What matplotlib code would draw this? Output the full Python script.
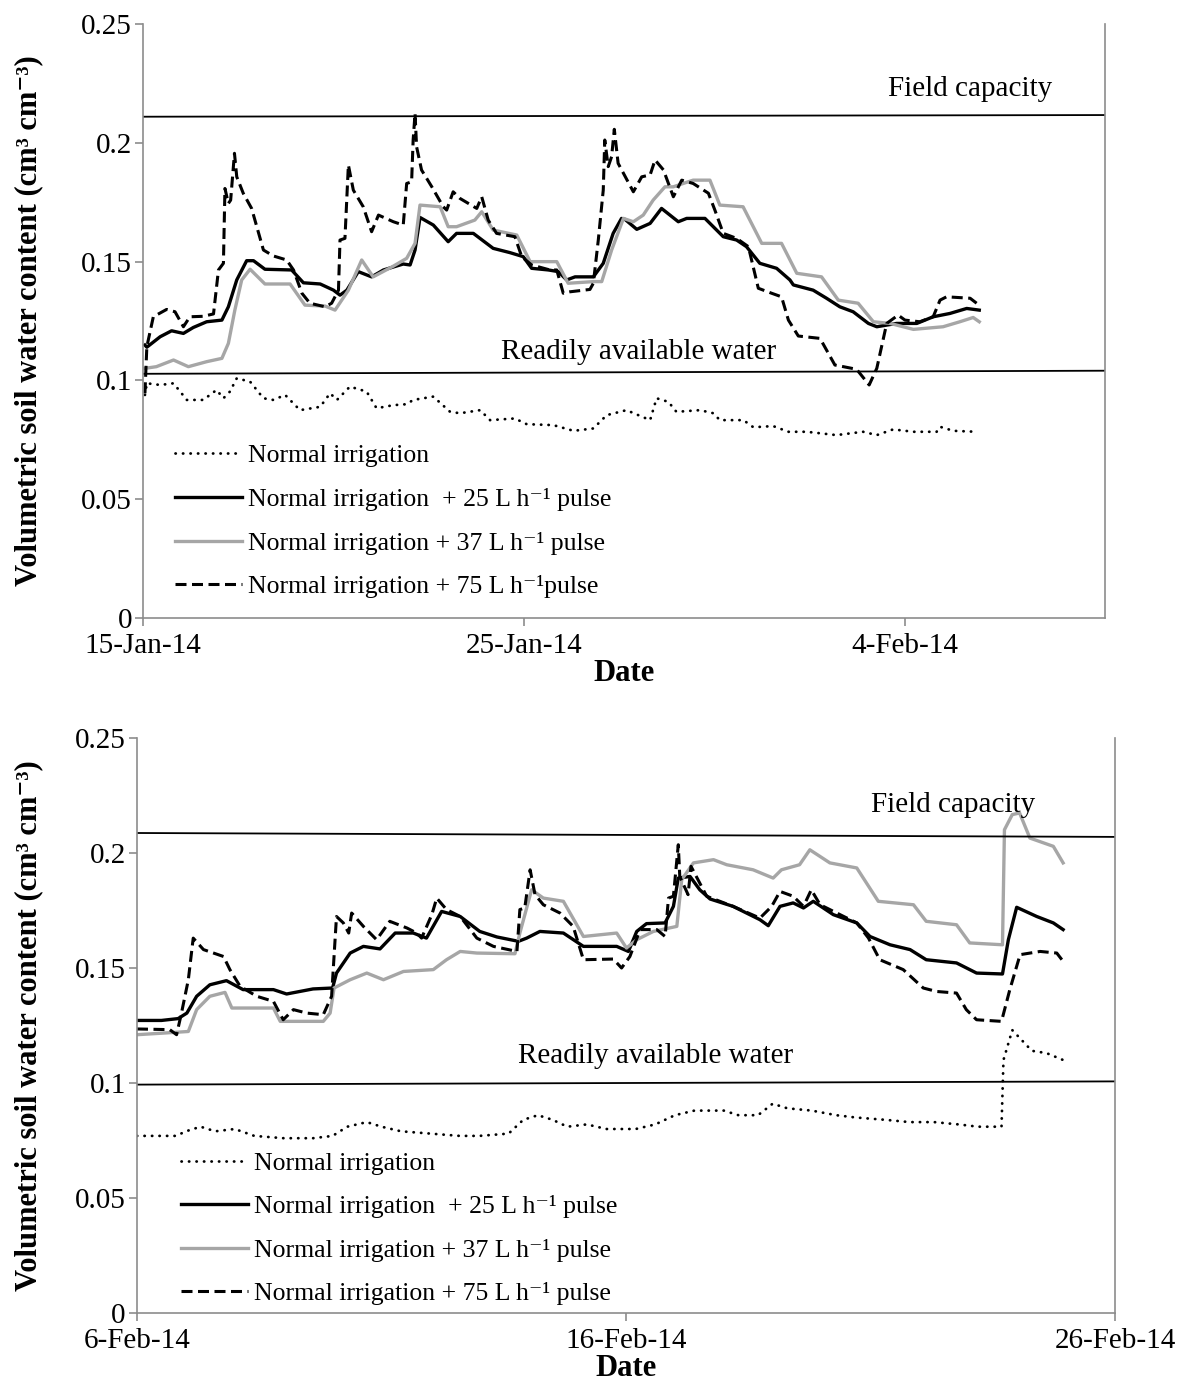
import numpy as np
import matplotlib
matplotlib.use("Agg")
import matplotlib.pyplot as plt
import matplotlib.dates as mdates
from matplotlib.ticker import FixedLocator, FuncFormatter

plt.rcParams['font.family'] = ['Liberation Serif', 'DejaVu Serif']

## soil moisture under the four irrigation treatments, two periods
## x values are days since the start date of each panel

# ---- period 1 : 15-Jan-14 onwards ----
p1_start = '2014-01-15'
p1_span = 25.25

p1_normal_d = [0.05, 0.1, 0.45, 0.8, 1.15, 1.58, 1.93, 2.11, 2.28, 2.46, 2.81, 3.16, 3.42, 3.73, 4.12,
               4.65, 4.91, 5.09, 5.43, 5.87, 6.13, 6.57, 6.92, 7.09, 7.62, 8.06, 8.32, 8.85, 9.11, 9.76,
               10.07, 10.77, 11.3, 11.82, 12.17, 12.69, 13.31, 13.48, 13.79, 14.0, 14.62, 14.97, 15.14,
               15.76, 16.02, 16.54, 16.94, 17.42, 18.2, 18.9, 19.26, 19.69, 20.22, 20.83, 20.92, 21.27, 21.88]
p1_normal = [0.0939, 0.0988, 0.0981, 0.0988, 0.0918, 0.0918, 0.096, 0.0925, 0.0953, 0.1009, 0.0995, 0.0925,
             0.0918, 0.0939, 0.0875, 0.0889, 0.0946, 0.0918, 0.0974, 0.0953, 0.0883, 0.0896, 0.09, 0.0918,
             0.0932, 0.0868, 0.0862, 0.0875, 0.0833, 0.084, 0.0816, 0.0812, 0.0788, 0.0798, 0.0854, 0.0875,
             0.0833, 0.0925, 0.091, 0.0868, 0.0875, 0.0862, 0.0833, 0.0833, 0.0803, 0.0808, 0.0784, 0.0784,
             0.077, 0.0784, 0.077, 0.0794, 0.0784, 0.0784, 0.0805, 0.0788, 0.0784]

p1_p25_d = [0.05, 0.1, 0.45, 0.75, 1.06, 1.32, 1.67, 2.07, 2.24, 2.46, 2.72, 2.9, 3.2, 3.9, 4.21, 4.65, 5.0,
            5.17, 5.35, 5.65, 6.0, 6.31, 6.83, 7.01, 7.14, 7.27, 7.62, 8.01, 8.23, 8.67, 9.19, 9.63, 9.98,
            10.2, 10.64, 10.9, 11.12, 11.34, 11.82, 12.08, 12.34, 12.56, 12.65, 12.96, 13.31, 13.61, 14.05,
            14.27, 14.75, 15.23, 15.58, 15.84, 16.19, 16.63, 16.98, 17.07, 17.59, 17.94, 18.29, 18.64,
            19.04, 19.26, 19.78, 20.31, 20.74, 21.18, 21.62, 21.95]
p1_p25 = [0.1149, 0.114, 0.1184, 0.1209, 0.1198, 0.1223, 0.1247, 0.1254, 0.131, 0.1423, 0.1504, 0.1504,
          0.1468, 0.1465, 0.1411, 0.1406, 0.138, 0.1359, 0.138, 0.1458, 0.1436, 0.1465, 0.149, 0.1486,
          0.1549, 0.1686, 0.1654, 0.1584, 0.1619, 0.1619, 0.1556, 0.1538, 0.1521, 0.1472, 0.1465, 0.1458,
          0.1423, 0.1436, 0.1436, 0.1493, 0.1619, 0.1682, 0.1678, 0.1636, 0.1661, 0.1724, 0.1668, 0.1682,
          0.1682, 0.1605, 0.1591, 0.1563, 0.1493, 0.1472, 0.1423, 0.1402, 0.138, 0.1346, 0.131, 0.1289,
          0.124, 0.1226, 0.124, 0.124, 0.1268, 0.1282, 0.1303, 0.1296]

p1_p37_d = [0.05, 0.35, 0.8, 1.19, 1.67, 2.07, 2.24, 2.41, 2.59, 2.81, 3.2, 3.86, 4.25, 4.78, 5.04, 5.39,
            5.74, 6.04, 6.57, 6.92, 7.14, 7.27, 7.8, 8.01, 8.23, 8.71, 8.89, 9.19, 9.81, 10.16, 10.86,
            11.16, 11.82, 12.04, 12.3, 12.61, 12.87, 13.13, 13.39, 13.7, 13.92, 14.44, 14.88, 15.14,
            15.75, 16.24, 16.76, 17.16, 17.81, 18.25, 18.77, 19.17, 19.61, 20.22, 21.0, 21.44, 21.79, 21.95]
p1_p37 = [0.1051, 0.1058, 0.1086, 0.1058, 0.1079, 0.1093, 0.1156, 0.1296, 0.1423, 0.1468, 0.1406, 0.1406,
          0.1317, 0.1313, 0.1296, 0.138, 0.1507, 0.1436, 0.1481, 0.1514, 0.1577, 0.1738, 0.1731, 0.1647,
          0.1647, 0.1675, 0.171, 0.1633, 0.1612, 0.15, 0.15, 0.1409, 0.1416, 0.1416, 0.1549, 0.1682,
          0.1668, 0.1696, 0.1759, 0.1815, 0.1815, 0.1843, 0.1843, 0.1738, 0.1731, 0.1577, 0.1577, 0.1451,
          0.1436, 0.1338, 0.1325, 0.1247, 0.124, 0.1215, 0.1226, 0.1247, 0.1265, 0.1247]

p1_p75_d = [0.05, 0.1, 0.27, 0.62, 0.84, 1.06, 1.23, 1.58, 1.85, 1.98, 2.11, 2.15, 2.24, 2.3, 2.4, 2.46,
            2.63, 2.85, 3.16, 3.42, 3.77, 3.95, 4.17, 4.38, 4.78, 4.95, 5.13, 5.17, 5.3, 5.39, 5.52, 5.78,
            6.0, 6.18, 6.57, 6.83, 6.92, 7.05, 7.09, 7.14, 7.18, 7.31, 7.58, 7.88, 7.97, 8.14, 8.32, 8.76,
            8.89, 9.06, 9.28, 9.76, 9.94, 10.2, 10.68, 10.86, 11.03, 11.2, 11.73, 11.82, 11.95, 12.08,
            12.12, 12.21, 12.3, 12.37, 12.47, 12.87, 13.09, 13.31, 13.44, 13.66, 13.92, 14.14, 14.44,
            14.84, 15.01, 15.23, 15.58, 15.89, 16.15, 16.5, 16.76, 16.94, 17.2, 17.77, 18.16, 18.73,
            19.06, 19.26, 19.52, 19.82, 20.0, 20.39, 20.74, 20.92, 21.09, 21.71, 21.88]
p1_p75 = [0.0946, 0.1142, 0.1268, 0.1299, 0.1289, 0.1226, 0.1268, 0.127, 0.128, 0.1465, 0.1493, 0.1808,
          0.1745, 0.1759, 0.1956, 0.1857, 0.1788, 0.1724, 0.1549, 0.1524, 0.1507, 0.1465, 0.1367, 0.1325,
          0.131, 0.1325, 0.138, 0.1591, 0.1598, 0.1907, 0.1801, 0.1731, 0.1626, 0.1696, 0.1668, 0.1654,
          0.1829, 0.1836, 0.2012, 0.2124, 0.1984, 0.1886, 0.1815, 0.1731, 0.1717, 0.1794, 0.1766, 0.1724,
          0.1773, 0.1675, 0.1619, 0.1605, 0.1521, 0.1486, 0.1465, 0.1465, 0.1367, 0.1373, 0.1383, 0.1409,
          0.1591, 0.1801, 0.2012, 0.19, 0.1942, 0.2057, 0.1914, 0.1794, 0.1857, 0.1865, 0.1928, 0.1886,
          0.1773, 0.1843, 0.1829, 0.1788, 0.1717, 0.1619, 0.1598, 0.1563, 0.1388, 0.1367, 0.1352, 0.1254,
          0.1187, 0.1177, 0.1065, 0.1047, 0.0981, 0.1051, 0.124, 0.1275, 0.1254, 0.1247, 0.1268, 0.1338,
          0.1352, 0.1346, 0.1325]

p1_fc = [0.211, 0.2117]     # field capacity at both ends of the axis
p1_raw = [0.1028, 0.1041]   # readily available water

# ---- period 2 : 6-Feb-14 onwards ----
p2_start = '2014-02-06'
p2_span = 20.0

p2_normal_d = [0.0, 0.8, 1.0, 1.3, 1.6, 2.0, 2.4, 3.0, 3.6, 4.0, 4.3, 4.7, 5.0, 5.4, 6.0, 6.6, 7.0, 7.6,
               7.9, 8.2, 8.5, 8.8, 9.2, 9.6, 10.2, 10.6, 11.0, 11.4, 12.0, 12.3, 12.7, 13.0, 13.3, 13.8,
               14.3, 14.7, 15.3, 15.8, 16.3, 16.8, 17.2, 17.68, 17.72, 17.9, 18.3, 18.6, 18.94]
p2_normal = [0.077, 0.077, 0.079, 0.081, 0.079, 0.08, 0.077, 0.076, 0.076, 0.077, 0.081, 0.083, 0.081,
             0.079, 0.078, 0.077, 0.077, 0.078, 0.084, 0.086, 0.084, 0.081, 0.082, 0.08, 0.08, 0.082,
             0.086, 0.088, 0.088, 0.086, 0.086, 0.091, 0.089, 0.088, 0.086, 0.085, 0.084, 0.083, 0.083,
             0.082, 0.081, 0.081, 0.11, 0.123, 0.114, 0.113, 0.11]

p2_p25_d = [0.0, 0.5, 0.84, 1.02, 1.22, 1.49, 1.83, 2.17, 2.79, 3.06, 3.33, 3.6, 4.0, 4.08, 4.36, 4.63,
            4.97, 5.28, 5.65, 5.92, 6.23, 6.61, 7.01, 7.36, 7.8, 7.97, 8.24, 8.72, 9.13, 9.81, 10.05,
            10.22, 10.42, 10.8, 10.97, 11.07, 11.31, 11.51, 11.72, 12.19, 12.74, 12.91, 13.15, 13.42,
            13.63, 13.83, 14.24, 14.72, 14.99, 15.4, 15.81, 16.14, 16.76, 17.17, 17.7, 17.82, 17.99,
            18.4, 18.74, 18.94]
p2_p25 = [0.1272, 0.1272, 0.128, 0.1304, 0.1377, 0.1427, 0.1445, 0.1406, 0.1406, 0.1387, 0.1398, 0.1409,
          0.1413, 0.1478, 0.1565, 0.1594, 0.1583, 0.1652, 0.1652, 0.163, 0.1746, 0.1724, 0.1659, 0.1635,
          0.1616, 0.163, 0.1659, 0.1652, 0.1594, 0.1594, 0.1572, 0.1659, 0.1693, 0.1696, 0.1768, 0.1891,
          0.1898, 0.184, 0.18, 0.1768, 0.171, 0.1684, 0.1768, 0.1783, 0.1761, 0.179, 0.1732, 0.1696,
          0.1637, 0.1601, 0.158, 0.1536, 0.1522, 0.1478, 0.1474, 0.1623, 0.1764, 0.1724, 0.1696, 0.1667]

p2_p37_d = [0.0, 0.54, 1.05, 1.22, 1.49, 1.8, 1.94, 2.79, 2.93, 3.81, 3.95, 4.03, 4.36, 4.7, 5.04, 5.45,
            6.06, 6.33, 6.61, 6.95, 7.73, 7.83, 8.07, 8.31, 8.72, 9.13, 9.81, 10.01, 10.22, 10.56, 11.04,
            11.14, 11.38, 11.79, 12.06, 12.6, 13.01, 13.18, 13.55, 13.76, 14.17, 14.72, 15.16, 15.88,
            16.14, 16.76, 17.03, 17.7, 17.74, 17.9, 18.05, 18.26, 18.74, 18.94]
p2_p37 = [0.121, 0.1217, 0.1224, 0.1319, 0.1377, 0.1394, 0.1326, 0.1326, 0.1268, 0.1268, 0.1304, 0.1413,
          0.1449, 0.1478, 0.1449, 0.1485, 0.1493, 0.1536, 0.1572, 0.1565, 0.1562, 0.1652, 0.184, 0.1804,
          0.179, 0.1637, 0.1652, 0.1587, 0.1623, 0.1659, 0.1681, 0.1884, 0.1957, 0.1971, 0.1949, 0.1927,
          0.1891, 0.1927, 0.1949, 0.2014, 0.1957, 0.1935, 0.179, 0.1775, 0.1703, 0.1688, 0.1609, 0.1601,
          0.2101, 0.2167, 0.2174, 0.2065, 0.2029, 0.1957]

p2_p75_d = [0.0, 0.67, 0.81, 0.91, 1.05, 1.15, 1.36, 1.77, 1.9, 2.11, 2.45, 2.79, 2.99, 3.2, 3.47, 3.81,
            3.98, 4.08, 4.22, 4.33, 4.39, 4.63, 4.9, 5.17, 5.52, 5.72, 5.82, 6.03, 6.13, 6.33, 6.61, 6.95,
            7.29, 7.77, 7.83, 7.93, 8.04, 8.14, 8.31, 8.65, 8.92, 9.13, 9.74, 9.91, 10.08, 10.29, 10.63,
            10.8, 10.87, 10.97, 11.07, 11.1, 11.27, 11.33, 11.65, 12.19, 12.74, 12.98, 13.15, 13.42,
            13.63, 13.79, 13.97, 14.72, 14.96, 15.19, 15.67, 16.08, 16.35, 16.76, 16.96, 17.17, 17.68,
            17.85, 18.06, 18.47, 18.81, 18.94]
p2_p75 = [0.1235, 0.1232, 0.121, 0.1304, 0.1449, 0.163, 0.158, 0.155, 0.1493, 0.142, 0.1377, 0.1355,
          0.1275, 0.1319, 0.1304, 0.1297, 0.1377, 0.1724, 0.1696, 0.1652, 0.1739, 0.1681, 0.1623, 0.1703,
          0.1674, 0.1652, 0.163, 0.1732, 0.1804, 0.1754, 0.1724, 0.163, 0.1594, 0.1572, 0.1754, 0.1761,
          0.1927, 0.1819, 0.1775, 0.1739, 0.1681, 0.1536, 0.1539, 0.15, 0.155, 0.1667, 0.1667, 0.1637,
          0.1804, 0.1812, 0.2036, 0.1898, 0.1819, 0.1942, 0.1812, 0.1768, 0.1717, 0.1768, 0.1833, 0.1812,
          0.1768, 0.184, 0.1775, 0.1696, 0.163, 0.1536, 0.1493, 0.1413, 0.1398, 0.1391, 0.1319, 0.1275,
          0.1268, 0.1406, 0.1558, 0.1572, 0.1565, 0.1529]

p2_fc = [0.2087, 0.207]
p2_raw = [0.0993, 0.1007]

labels1 = ['Normal irrigation',
           'Normal irrigation  + 25 L h\u207b\u00b9 pulse',
           'Normal irrigation + 37 L h\u207b\u00b9 pulse',
           'Normal irrigation + 75 L h\u207b\u00b9pulse']
labels2 = ['Normal irrigation',
           'Normal irrigation  + 25 L h\u207b\u00b9 pulse',
           'Normal irrigation + 37 L h\u207b\u00b9 pulse',
           'Normal irrigation + 75 L h\u207b\u00b9 pulse']
y_ticks = [0, 0.05, 0.1, 0.15, 0.2, 0.25]
y_ticklabels = ['0', '0.05', '0.1', '0.15', '0.2', '0.25']
ylabel = 'Volumetric soil water content (cm\u00b3 cm\u207b\u00b3)'

AXIS_GREY = '#8c8c8c'


def to_num(start, days):
    return mdates.date2num(np.datetime64(start)) + np.asarray(days, dtype=float)


def day_fmt(x, pos):
    dt = mdates.num2date(x)
    return '{}-{}'.format(dt.day, dt.strftime('%b-%y'))


def draw_panel(ax, start, span, series, fc, raw, labels, fc_pos, raw_pos, ylab_x, leg_anchor):
    t0 = to_num(start, 0)
    lines = []
    styles = [dict(color='black', lw=2.0, ls=(0, (0.1, 2.6)), dash_capstyle='round'),
              dict(color='black', lw=2.4, ls='-'),
              dict(color='#a6a6a6', lw=2.4, ls='-'),
              dict(color='black', lw=2.2, ls=(0, (3.6, 1.8)))]
    for (d, v), st, lab in zip(series, styles, labels):
        ln, = ax.plot(to_num(start, d), v, label=lab, **st)
        lines.append(ln)

    # reference levels
    ends = to_num(start, [0, span])
    ax.plot(ends, fc, color='black', lw=1.3)
    ax.plot(ends, raw, color='black', lw=1.3)
    ax.text(t0 + fc_pos[0], fc_pos[1], 'Field capacity', fontsize=21, ha='center', va='center')
    ax.text(t0 + raw_pos[0], raw_pos[1], 'Readily available water', fontsize=21, ha='center', va='center')

    ax.set_xlim(t0, t0 + span)
    ax.set_ylim(0, 0.25)
    ax.xaxis.set_major_locator(FixedLocator(to_num(start, [0, 10, 20])))
    ax.xaxis.set_major_formatter(FuncFormatter(day_fmt))
    ax.set_yticks(y_ticks)
    ax.set_yticklabels(y_ticklabels)
    ax.tick_params(direction='out', length=6, width=1.2, color=AXIS_GREY, labelsize=21)
    ax.tick_params(axis='x', pad=5)
    ax.tick_params(axis='y', pad=2)
    ax.spines['top'].set_visible(False)
    for s in ['left', 'bottom', 'right']:
        ax.spines[s].set_color(AXIS_GREY)
        ax.spines[s].set_linewidth(1.2)

    ax.set_xlabel('Date', fontsize=22, fontweight='bold', labelpad=0)
    ax.set_ylabel(ylabel, fontsize=22, fontweight='bold')
    ax.yaxis.set_label_coords(ylab_x, 0.5)

    ax.legend(handles=lines, loc='center left', bbox_to_anchor=leg_anchor, frameon=False,
              fontsize=18.5, handlelength=2.6, handletextpad=0.25, labelspacing=0.8,
              borderpad=0, borderaxespad=0)


fig = plt.figure(figsize=(11.86, 13.98), dpi=100)
ax1 = fig.add_axes([0.1206, 0.5579, 0.8111, 0.4249])
ax2 = fig.add_axes([0.1155, 0.0608, 0.8246, 0.4113])

draw_panel(ax1, p1_start, p1_span,
           [(p1_normal_d, p1_normal), (p1_p25_d, p1_p25), (p1_p37_d, p1_p37), (p1_p75_d, p1_p75)],
           p1_fc, p1_raw, labels1, (21.7, 0.2226), (13.0, 0.1118), -0.104, (0.033, 0.163))
draw_panel(ax2, p2_start, p2_span,
           [(p2_normal_d, p2_normal), (p2_p25_d, p2_p25), (p2_p37_d, p2_p37), (p2_p75_d, p2_p75)],
           p2_fc, p2_raw, labels2, (16.7, 0.221), (10.6, 0.1116), -0.096, (0.045, 0.147))

fig.savefig('out.png', dpi=100)
